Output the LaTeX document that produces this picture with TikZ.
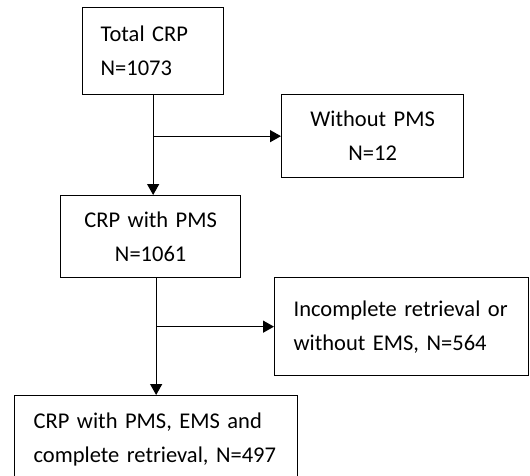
\documentclass[tikz,border=0pt]{standalone}
\usepackage{fontspec}
\setmainfont{Carlito}
\usetikzlibrary{arrows.meta}

\tikzset{
    flowbox/.style={draw, line width=1.3pt, anchor=north west, inner ysep=0pt,
        inner xsep=19pt, font=\fontsize{22.5}{34}\selectfont},
    flowarrow/.style={line width=1.3pt, -{Triangle[length=11pt,width=12pt]}}
}

\begin{document}
\begin{tikzpicture}[x=1pt,y=-1pt]
\clip (0,0) rectangle (530,475);

\node[flowbox, inner xsep=18pt, text width=105pt, minimum height=87pt, align=left] (total) at (82,7) {Total CRP\\N=1073};
\node[flowbox, text width=144pt, minimum height=83pt, align=center] (nopms) at (281,94) {Without PMS\\N=12};
\node[flowbox, text width=142pt, minimum height=82pt, align=center] (withpms) at (60,195) {CRP with PMS\\N=1061};
\node[flowbox, text width=216pt, minimum height=98pt, align=left] (noems) at (274,277) {Incomplete retrieval or\\without EMS, N=564};
\node[flowbox, text width=245pt, minimum height=88pt, align=left] (final) at (14,395) {CRP with PMS, EMS and\\complete retrieval, N=497};

% main flow
\draw[flowarrow] (total.south) -- (total.south |- withpms.north);
\draw[flowarrow] (final.north |- withpms.south) -- (final.north);

% exclusions
\draw[flowarrow] (nopms.west -| total.south) -- (nopms.west);
\draw[flowarrow] (noems.west -| final.north) -- (noems.west);

\end{tikzpicture}
\end{document}
